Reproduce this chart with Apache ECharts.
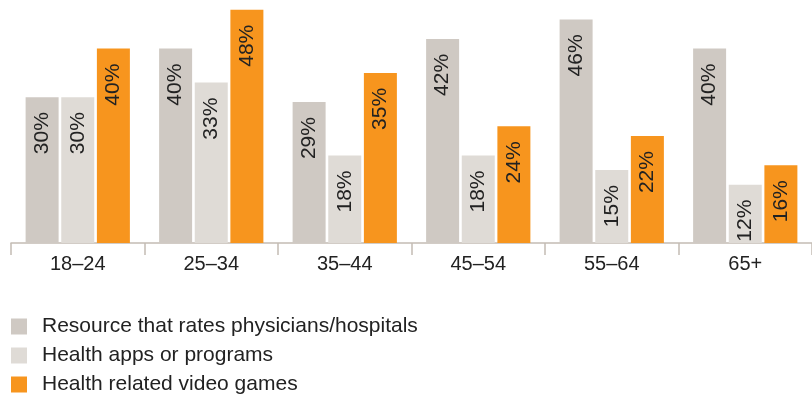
<!DOCTYPE html>
<html>
<head>
<meta charset="utf-8">
<script src="https://cdn.jsdelivr.net/npm/echarts@6/dist/echarts.min.js"></script>
<style>
  html, body { margin: 0; padding: 0; background: #ffffff; }
  #chart { width: 812px; height: 398px; }
</style>
</head>
<body>
<div id="chart"></div>
<script>
// Age groups along the x axis
const ageGroups = ['18–24', '25–34', '35–44', '45–54', '55–64', '65+'];

// Share of respondents (%) per age group
const ratingResources = [30, 40, 29, 42, 46, 40];
const healthApps = [30, 33, 18, 18, 15, 12];
const videoGames = [40, 48, 35, 24, 22, 16];

const seriesNames = [
  'Resource that rates physicians/hospitals',
  'Health apps or programs',
  'Health related video games'
];

const FONT = '"Liberation Sans", Arial, Helvetica, sans-serif';
const colors = ['#cfc9c3', '#dfdbd6', '#f7951e'];

function barSeries(name, data, color) {
  return {
    name: name,
    type: 'bar',
    data: data,
    barWidth: 33,
    barGap: '8%',
    itemStyle: { color: color },
    label: {
      show: true,
      position: 'insideTop',
      distance: 15,
      rotate: 90,
      align: 'right',
      verticalAlign: 'middle',
      formatter: '{c}%',
      color: '#222222',
      fontFamily: FONT,
      fontSize: 21
    }
  };
}

const chart = echarts.init(document.getElementById('chart'), null, { renderer: 'canvas' });
chart.setOption({
  animation: false,
  backgroundColor: '#ffffff',
  grid: { left: 11, right: 0, top: -2, bottom: 155, containLabel: false },
  xAxis: {
    type: 'category',
    data: ageGroups,
    axisLine: { lineStyle: { color: '#c4bcb4', width: 1.5 } },
    axisTick: { show: true, length: 12, alignWithLabel: false, lineStyle: { color: '#c4bcb4', width: 1.5 } },
    axisLabel: { color: '#222222', fontFamily: FONT, fontSize: 20, margin: 11 }
  },
  yAxis: {
    type: 'value',
    min: 0,
    max: 50,
    show: false
  },
  legend: {
    orient: 'vertical',
    left: 11,
    top: 316,
    padding: 0,
    height: 90,
    itemWidth: 16,
    itemHeight: 16,
    itemGap: 8,
    icon: 'rect',
    data: seriesNames,
    textStyle: { color: '#222222', fontFamily: FONT, fontSize: 21, padding: [0, 0, 0, 10] }
  },
  series: [
    barSeries(seriesNames[0], ratingResources, colors[0]),
    barSeries(seriesNames[1], healthApps, colors[1]),
    barSeries(seriesNames[2], videoGames, colors[2])
  ]
});
</script>
</body>
</html>
